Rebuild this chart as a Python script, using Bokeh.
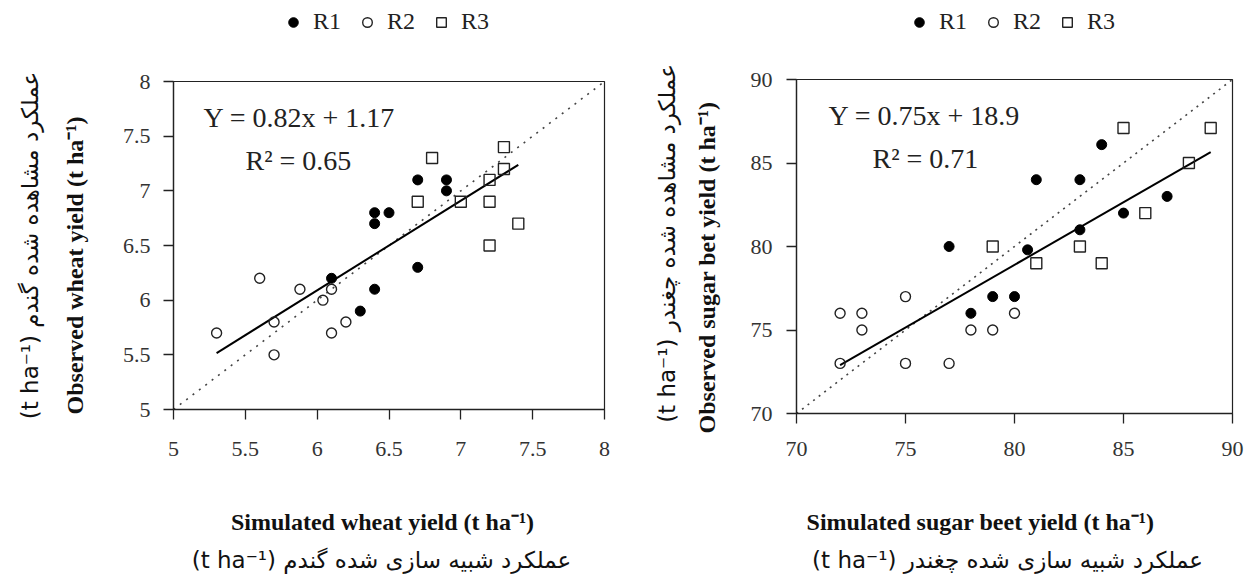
import math
from bokeh.plotting import figure
from bokeh.models import Range1d, FixedTicker, Label, Legend, LegendItem, LinearAxis
from bokeh.layouts import row, column
from bokeh.embed import file_html
from bokeh.resources import INLINE

# ---------------- data: wheat ----------------
wheat_r1_sim = [6.7, 6.9, 6.9, 6.4, 6.4, 6.5, 6.1, 6.4, 6.3, 6.7]
wheat_r1_obs = [7.1, 7.1, 7.0, 6.8, 6.7, 6.8, 6.2, 6.1, 5.9, 6.3]
wheat_r2_sim = [5.3, 5.6, 5.7, 5.7, 5.88, 6.04, 6.1, 6.1, 6.2]
wheat_r2_obs = [5.7, 6.2, 5.8, 5.5, 6.1, 6.0, 6.1, 5.7, 5.8]
wheat_r3_sim = [7.3, 7.3, 6.8, 7.2, 6.7, 7.0, 7.2, 7.4, 7.2]
wheat_r3_obs = [7.4, 7.2, 7.3, 7.1, 6.9, 6.9, 6.9, 6.7, 6.5]
wheat_slope, wheat_intercept = 0.82, 1.17
wheat_ticks = [5, 5.5, 6, 6.5, 7, 7.5, 8]
wheat_tick_labels = ["5", "5.5", "6", "6.5", "7", "7.5", "8"]

# ---------------- data: sugar beet ----------------
beet_r1_sim = [77, 81, 83, 84, 80.6, 83, 85, 87, 78, 79, 80]
beet_r1_obs = [80, 84, 84, 86.1, 79.8, 81, 82, 83, 76, 77, 77]
beet_r2_sim = [72, 72, 73, 73, 75, 75, 77, 78, 79, 80]
beet_r2_obs = [76, 73, 76, 75, 77, 73, 73, 75, 75, 76]
beet_r3_sim = [79, 81, 83, 84, 85, 86, 88, 89]
beet_r3_obs = [80, 79, 80, 79, 87.1, 82, 85, 87.1]
beet_slope, beet_intercept = 0.75, 18.9
beet_ticks = [70, 75, 80, 85, 90]
beet_tick_labels = ["70", "75", "80", "85", "90"]

series_names = ["R1", "R2", "R3"]

SERIF = "Liberation Serif"
PERSIAN = "DejaVu Sans"
LEGEND_H = 45
TOTAL_H = 580


def title_axis(text, pos, font, size, style, standoff, vertical):
    """An axis that shows no line or ticks, only one title text centred at `pos`."""
    return LinearAxis(ticker=FixedTicker(ticks=[pos]), major_label_overrides={pos: text},
                      axis_line_color=None, major_tick_line_color=None, minor_tick_line_color=None,
                      major_tick_in=0, major_tick_out=0, minor_tick_in=0, minor_tick_out=0,
                      major_label_standoff=standoff, major_label_text_font=font,
                      major_label_text_font_size=size, major_label_text_font_style=style,
                      major_label_text_color="#111111",
                      major_label_orientation="vertical" if vertical else "horizontal")


def add_markers(p, r1, r2, r3):
    g1 = p.scatter(r1[0], r1[1], marker="circle", size=10, fill_color="black", line_color="black")
    g2 = p.scatter(r2[0], r2[1], marker="circle", size=10, fill_alpha=0,
                   line_color="#222222", line_width=1.4)
    g3 = p.scatter(r3[0], r3[1], marker="square", size=11, fill_alpha=0,
                   line_color="#222222", line_width=1.4)
    return g1, g2, g3


def make_panel(width, frame, ticks, tick_labels, r1, r2, r3, slope, intercept,
               eq_text, r2_text, eq_pos, r2_pos, legend_pos,
               x_title, y_title, x_fa, y_fa, standoffs, centers, tick_standoff, dot_dash):
    f_left, f_top, f_w, f_h = frame
    lo, hi = ticks[0], ticks[-1]

    # ---- legend strip above the plot ----
    lg = figure(width=width, height=LEGEND_H, output_backend="svg", toolbar_location=None,
                x_range=Range1d(0, 1), y_range=Range1d(0, 1),
                x_axis_location=None, y_axis_location=None,
                min_border_left=0, min_border_right=0, min_border_top=0, min_border_bottom=0,
                background_fill_color="white", border_fill_color="white")
    lg.title.visible = False
    lg.grid.visible = False
    lg.outline_line_color = None
    lgr = add_markers(lg, r1, r2, r3)  # same series; outside this strip's range, only used by the legend
    legend = Legend(items=[LegendItem(label=n, renderers=[g]) for n, g in zip(series_names, lgr)],
                    orientation="horizontal", location=legend_pos,
                    glyph_width=24, glyph_height=24, label_standoff=8, spacing=14,
                    padding=0, margin=0, border_line_color=None, background_fill_alpha=0,
                    label_text_font=SERIF, label_text_font_size="24px", label_text_color="#222222")
    lg.add_layout(legend)

    # ---- main scatter plot ----
    main_h = TOTAL_H - LEGEND_H
    p = figure(width=width, height=main_h, output_backend="svg", toolbar_location=None,
               x_range=Range1d(lo, hi), y_range=Range1d(lo, hi),
               min_border_left=f_left, min_border_right=width - f_left - f_w,
               min_border_top=f_top - LEGEND_H, min_border_bottom=main_h - (f_top - LEGEND_H) - f_h,
               background_fill_color="white", border_fill_color="white")
    p.title.visible = False
    p.grid.visible = False
    p.outline_line_color = "#222222"
    p.outline_line_width = 1.2

    for ax, st in ((p.xaxis[0], tick_standoff[0]), (p.yaxis[0], tick_standoff[1])):
        ax.ticker = FixedTicker(ticks=ticks)
        ax.major_label_overrides = {t: l for t, l in zip(ticks, tick_labels)}
        ax.major_label_text_font = SERIF
        ax.major_label_text_font_size = "22px"
        ax.major_label_text_color = "#333333"
        ax.major_label_standoff = st
        ax.major_tick_in = 0
        ax.major_tick_out = 10
        ax.minor_tick_in = 0
        ax.minor_tick_out = 0
        ax.axis_line_color = "#222222"
        ax.major_tick_line_color = "#222222"
        ax.axis_line_width = 1.3
        ax.major_tick_line_width = 1.3

    # title centres given as pixel offsets along the frame -> data positions
    cx_en, cx_fa, cy_en, cy_fa = centers
    to_x = lambda px: lo + px / f_w * (hi - lo)
    to_y = lambda px: lo + px / f_h * (hi - lo)
    sx1, sx2, sy1, sy2 = standoffs
    p.add_layout(title_axis(x_title, to_x(cx_en), SERIF, "24px", "bold", sx1, False), "below")
    p.add_layout(title_axis(x_fa, to_x(cx_fa), PERSIAN, "23px", "normal", sx2, False), "below")
    p.add_layout(title_axis(y_title, to_y(cy_en), SERIF, "24px", "bold", sy1, True), "left")
    p.add_layout(title_axis(y_fa, to_y(cy_fa), PERSIAN, "23px", "normal", sy2, True), "left")

    # 1:1 line (axis limits)
    p.line([lo, hi], [lo, hi], line_color="#444444", line_width=1.6, line_dash=dot_dash)
    # regression line over the range of simulated values
    all_x = r1[0] + r2[0] + r3[0]
    xs = [min(all_x), max(all_x)]
    p.line(xs, [slope * v + intercept for v in xs], line_color="black", line_width=2)

    add_markers(p, r1, r2, r3)

    p.add_layout(Label(x=eq_pos[0], y=eq_pos[1], x_units="screen", y_units="screen", text=eq_text,
                       text_font=SERIF, text_font_size="28px", text_color="#222222",
                       text_align="left", text_baseline="middle"))
    p.add_layout(Label(x=r2_pos[0], y=r2_pos[1], x_units="screen", y_units="screen", text=r2_text,
                       text_font=SERIF, text_font_size="28px", text_color="#222222",
                       text_align="left", text_baseline="middle"))
    return column(lg, p)


c1 = make_panel(
    630, (173, 81, 431, 328), wheat_ticks, wheat_tick_labels,
    (wheat_r1_sim, wheat_r1_obs), (wheat_r2_sim, wheat_r2_obs), (wheat_r3_sim, wheat_r3_obs),
    wheat_slope, wheat_intercept,
    "Y = 0.82x + 1.17", "R² = 0.65", (30, 292), (72, 249), (108, 10),
    "Simulated wheat yield (t ha⁻¹)", "Observed wheat yield (t ha⁻¹)",
    "(t ha⁻¹) عملکرد شبیه سازی شده گندم", "(t ha⁻¹) عملکرد مشاهده شده گندم",
    (50, 9, 32, 16), (209, 208, 144, 164), (22, 13), "2 6")

c2 = make_panel(
    622, (166, 79, 436, 334), beet_ticks, beet_tick_labels,
    (beet_r1_sim, beet_r1_obs), (beet_r2_sim, beet_r2_obs), (beet_r3_sim, beet_r3_obs),
    beet_slope, beet_intercept,
    "Y = 0.75x + 18.9", "R² = 0.71", (32, 298), (76, 255), (111, 10),
    "Simulated sugar beet yield (t ha⁻¹)", "Observed sugar bet yield (t ha⁻¹)",
    "(t ha⁻¹) عملکرد شبیه سازی شده چغندر", "(t ha⁻¹) عملکرد مشاهده شده چغندر",
    (50, 9, 28, 11), (184, 211, 146, 170), (18, 14), "2 5")

layout = row(c1, c2)
open("out.html", "w").write(file_html(layout, INLINE))
